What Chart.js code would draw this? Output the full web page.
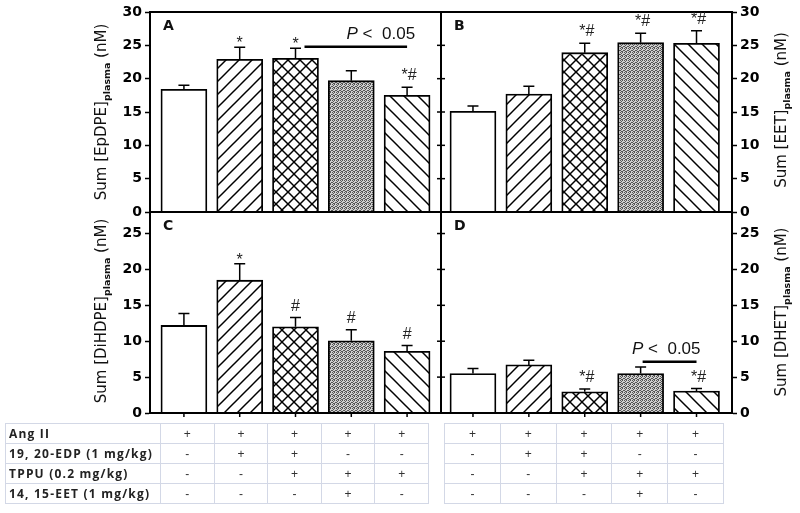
<!DOCTYPE html>
<html><head><meta charset="utf-8">
<script src="https://cdn.jsdelivr.net/npm/chart.js@4.4.1/dist/chart.umd.min.js"></script>
<style>
html,body{margin:0;padding:0;background:#fff}
body{width:800px;height:513px;position:relative;overflow:hidden}
canvas.panel{position:absolute;left:0;top:0}
.yt{position:absolute;transform:translate(-50%,-50%) rotate(-90deg);font:15px "DejaVu Sans",Arial,sans-serif;white-space:nowrap;color:#111}
.yt sub{font-size:9.5px;font-weight:bold;vertical-align:-4px}
table.tr{position:absolute;top:423px;border-collapse:collapse;table-layout:fixed}
table.tr td{border:1px solid #d3d8e6;height:20px;padding:0;text-align:center;font:12px "Liberation Sans",Arial,sans-serif;color:#333;box-sizing:border-box}
table.tr td.lab{text-align:left;padding-left:3px;font:bold 12px "Open Sans",sans-serif;letter-spacing:1.2px;color:#222;white-space:nowrap;overflow:hidden}
</style></head>
<body>
<canvas id="cA" class="panel" width="800" height="513"></canvas>
<canvas id="cB" class="panel" width="800" height="513"></canvas>
<canvas id="cC" class="panel" width="800" height="513"></canvas>
<canvas id="cD" class="panel" width="800" height="513"></canvas>
<div class="yt" style="left:102px;top:112px">Sum [EpDPE]<sub>plasma</sub> (nM)</div>
<div class="yt" style="left:102px;top:311px">Sum [DiHDPE]<sub>plasma</sub> (nM)</div>
<div class="yt" style="left:782px;top:110px">Sum [EET]<sub>plasma</sub> (nM)</div>
<div class="yt" style="left:782px;top:312px">Sum [DHET]<sub>plasma</sub> (nM)</div>
<div id="tables"></div>
<script>
// ---------------- data ----------------
const categories = ['Ang II', 'Ang II + 19,20-EDP', 'Ang II + 19,20-EDP + TPPU', 'Ang II + TPPU + 14,15-EET', 'Ang II + TPPU'];
const epdpeMean  = [18.4, 22.9, 23.05, 19.7, 17.5];
const epdpeSem   = [0.6, 1.8, 1.5, 1.5, 1.2];
const eetMean    = [15.1, 17.7, 23.9, 25.4, 25.3];
const eetSem     = [0.8, 1.15, 1.4, 1.4, 1.9];
const dihdpeMean = [12.2, 18.5, 12.0, 10.05, 8.6];
const dihdpeSem  = [1.65, 2.3, 1.3, 1.55, 0.8];
const dhetMean   = [5.5, 6.7, 2.96, 5.5, 3.05];
const dhetSem    = [0.7, 0.65, 0.4, 0.9, 0.35];
const epdpeMarks  = ['', '*', '*', '', '*#'];
const eetMarks    = ['', '', '*#', '*#', '*#'];
const dihdpeMarks = ['', '*', '#', '#', '#'];
const dhetMarks   = ['', '', '*#', '', '*#'];
const panelLetters = ['A', 'B', 'C', 'D'];
const sigLabel = 'P < 0.05';
const epdpeSig = {from: 2, to: 4, value: 24.8};
const dhetSig  = {from: 3, to: 4, value: 7.15};
const topAxisMax = 30, bottomAxisMax = 28, axisStep = 5;
const treatmentRows = ['Ang II', '19, 20-EDP (1 mg/kg)', 'TPPU (0.2 mg/kg)', '14, 15-EET (1 mg/kg)'];
const treatmentMatrix = [
  ['+', '+', '+', '+', '+'],
  ['-', '+', '+', '-', '-'],
  ['-', '-', '+', '+', '+'],
  ['-', '-', '-', '+', '-']
];

// ---------------- patterns ----------------
function hatch(ctx, type, s) {
  const c = document.createElement('canvas'); c.width = s; c.height = s;
  const g = c.getContext('2d');
  g.fillStyle = '#fff'; g.fillRect(0, 0, s, s);
  g.strokeStyle = '#000'; g.lineWidth = 1.5;
  const L = (a, b, c2, d) => { g.beginPath(); g.moveTo(a, b); g.lineTo(c2, d); g.stroke(); };
  if (type === '/' || type === 'x') { L(-2, s + 2, s + 2, -2); L(-2, 2, 2, -2); L(s - 2, s + 2, s + 2, s - 2); }
  if (type === '\\' || type === 'x') { L(-2, -2, s + 2, s + 2); L(s - 2, -2, s + 2, 2); L(-2, s - 2, 2, s + 2); }
  return ctx.createPattern(c, 'repeat');
}
function dots(ctx) {
  const c = document.createElement('canvas'); c.width = 4; c.height = 4;
  const g = c.getContext('2d');
  g.fillStyle = '#cfcfcf'; g.fillRect(0, 0, 4, 4);
  g.fillStyle = '#555';
  [[0,0],[2,0],[1,1],[3,2],[0,2],[2,3],[1,3]].forEach(p => g.fillRect(p[0], p[1], 1, 1));
  return ctx.createPattern(c, 'repeat');
}

// ---------------- overlay plugin ----------------
const overlay = {
  id: 'overlay',
  afterDatasetsDraw(chart, args, o) {
    const ctx = chart.ctx, a = chart.chartArea;
    const ys = chart.scales.y;
    const meta = chart.getDatasetMeta(0);
    ctx.save();
    ctx.strokeStyle = '#000';
    // error bars
    ctx.lineWidth = 1.5;
    o.mean.forEach((v, i) => {
      const x = meta.data[i].x;
      const y0 = ys.getPixelForValue(v), y1 = ys.getPixelForValue(v + o.sem[i]);
      ctx.beginPath(); ctx.moveTo(x, y0); ctx.lineTo(x, y1);
      ctx.moveTo(x - 5.5, y1); ctx.lineTo(x + 5.5, y1); ctx.stroke();
    });
    // frame
    ctx.lineWidth = 2;
    ctx.strokeRect(a.left, a.top, a.right - a.left, a.bottom - a.top);
    // mirrored ticks
    ctx.lineWidth = 1.5;
    for (let v = 0; v <= o.max; v += axisStep) {
      const y = ys.getPixelForValue(v);
      ctx.beginPath();
      if (o.side === 'left') { ctx.moveTo(a.right, y); ctx.lineTo(a.right + 4, y); }
      else { ctx.moveTo(a.left - 4, y); ctx.lineTo(a.left, y); }
      ctx.stroke();
    }
    // bottom ticks
    if (o.bottomTicks) {
      meta.data.forEach(b => { ctx.beginPath(); ctx.moveTo(b.x, a.bottom); ctx.lineTo(b.x, a.bottom + 4); ctx.stroke(); });
    }
    // markers
    ctx.fillStyle = '#222';
    ctx.font = '16px "Liberation Sans", Arial, sans-serif';
    ctx.textAlign = 'center'; ctx.textBaseline = 'alphabetic';
    o.marks.forEach((m, i) => {
      if (!m) return;
      const x = meta.data[i].x;
      const yt = ys.getPixelForValue(o.mean[i] + o.sem[i]);
      ctx.fillText(m, x + (m.length > 1 ? 2 : 0), m === '*' ? yt + 1 : yt - 7);
    });
    // letter
    ctx.font = 'bold 14px "DejaVu Sans", Arial, sans-serif';
    ctx.textAlign = 'left';
    ctx.fillStyle = '#111';
    ctx.fillText(o.letter, a.left + 13, a.top + 17.5);
    // significance
    if (o.sig) {
      const x1 = meta.data[o.sig.from].x + (o.sig.from === 2 ? 9 : 2), x2 = meta.data[o.sig.to].x;
      const y = ys.getPixelForValue(o.sig.value);
      ctx.lineWidth = 2.5;
      ctx.beginPath(); ctx.moveTo(x1, y); ctx.lineTo(x2, y); ctx.stroke();
      ctx.textAlign = 'right';
      ctx.font = '17px "Liberation Sans", Arial, sans-serif';
      const rest = ' <  0.05';
      const wr = ctx.measureText(rest).width;
      const xr = x2 + (o.sig.from === 2 ? 8 : 4);
      ctx.fillText(rest, xr, y - 7.5);
      ctx.font = 'italic 17px "Liberation Sans", Arial, sans-serif';
      ctx.fillText(sigLabel.split(' ')[0], xr - wr, y - 7.5);
    }
    ctx.restore();
  }
};

function makePanel(id, cfg) {
  const ctx = document.getElementById(id).getContext('2d');
  const fills = ['#ffffff', hatch(ctx, '/', 13), hatch(ctx, 'x', 12), dots(ctx), hatch(ctx, '\\', 14)];
  new Chart(ctx, {
    type: 'bar',
    data: { datasets: [{
      label: cfg.label,
      data: cfg.mean.map((v, i) => ({x: i, y: v})),
      backgroundColor: fills, borderColor: '#000', borderWidth: 1.8, borderSkipped: 'start',
      barThickness: 46
    }]},
    options: {
      responsive: false, animation: false, devicePixelRatio: 1,
      layout: { padding: cfg.padding },
      plugins: { legend: {display: false}, tooltip: {enabled: false}, overlay: cfg },
      scales: {
        x: { type: 'linear', min: cfg.xmin, max: cfg.xmax, bounds: 'data', offset: false, display: false,
             ticks: {stepSize: 1, includeBounds: false} },
        y: {
          position: cfg.side, min: 0, max: cfg.max,
          ticks: { stepSize: axisStep, includeBounds: false, color: '#000', padding: 3,
                   font: {family: '"DejaVu Sans", Arial, sans-serif', weight: 'bold', size: 14} },
          grid: { drawOnChartArea: false, drawTicks: true, tickLength: 5, tickColor: '#000', tickWidth: 1.5, color: '#000' },
          border: { display: true, color: '#000', width: 2 },
          afterFit(s) { s.width = 50; }
        }
      }
    },
    plugins: [overlay]
  });
}

makePanel('cA', {label: 'EpDPE', mean: epdpeMean, sem: epdpeSem, marks: epdpeMarks, letter: panelLetters[0], sig: epdpeSig,
  side: 'left', max: topAxisMax, xmin: -0.608, xmax: 4.608, padding: {left: 100, right: 359, top: 12, bottom: 301}});
makePanel('cB', {label: 'EET', mean: eetMean, sem: eetSem, marks: eetMarks, letter: panelLetters[1], sig: null,
  side: 'right', max: topAxisMax, xmin: -0.572, xmax: 4.635, padding: {left: 441, right: 18, top: 12, bottom: 301}});
makePanel('cC', {label: 'DiHDPE', mean: dihdpeMean, sem: dihdpeSem, marks: dihdpeMarks, letter: panelLetters[2], sig: null, bottomTicks: true,
  side: 'left', max: bottomAxisMax, xmin: -0.608, xmax: 4.608, padding: {left: 100, right: 359, top: 212, bottom: 100}});
makePanel('cD', {label: 'DHET', mean: dhetMean, sem: dhetSem, marks: dhetMarks, letter: panelLetters[3], sig: dhetSig, bottomTicks: true,
  side: 'right', max: bottomAxisMax, xmin: -0.572, xmax: 4.635, padding: {left: 441, right: 18, top: 212, bottom: 100}});

// ---------------- tables ----------------
function buildTable(left, withLabels, labW, colW) {
  const t = document.createElement('table');
  t.className = 'tr'; t.style.left = left + 'px';
  const cg = document.createElement('colgroup');
  if (withLabels) { const c = document.createElement('col'); c.style.width = labW + 'px'; cg.appendChild(c); }
  for (let i = 0; i < categories.length; i++) { const c = document.createElement('col'); c.style.width = colW + 'px'; cg.appendChild(c); }
  t.appendChild(cg);
  t.style.width = ((withLabels ? labW : 0) + colW * categories.length) + 'px';
  treatmentRows.forEach((r, ri) => {
    const tr = document.createElement('tr');
    if (withLabels) { const td = document.createElement('td'); td.className = 'lab'; td.textContent = r; tr.appendChild(td); }
    treatmentMatrix[ri].forEach(s => { const td = document.createElement('td'); td.textContent = s; tr.appendChild(td); });
    t.appendChild(tr);
  });
  document.getElementById('tables').appendChild(t);
}
buildTable(5, true, 155, 53.6);
buildTable(444, false, 0, 55.8);
</script>
</body></html>
